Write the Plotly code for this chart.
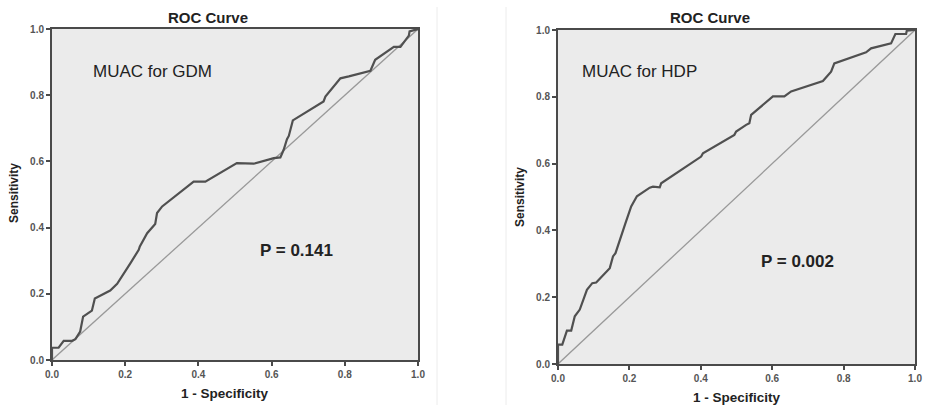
import plotly.graph_objects as go

# Left panel: MUAC for GDM
gdm_fpr = [0, 0, 0.018, 0.032, 0.055, 0.064, 0.077, 0.085, 0.109, 0.117, 0.159, 0.178, 0.214, 0.237, 0.240,
           0.260, 0.282, 0.287, 0.301, 0.387, 0.419, 0.505, 0.551, 0.606, 0.624, 0.633, 0.642, 0.647, 0.658,
           0.742, 0.747, 0.779, 0.788, 0.811, 0.870, 0.883, 0.934, 0.952, 0.975, 0.977, 1.0]
gdm_tpr = [0, 0.037, 0.037, 0.058, 0.058, 0.063, 0.086, 0.131, 0.149, 0.186, 0.210, 0.230, 0.292, 0.333, 0.343,
           0.383, 0.411, 0.444, 0.464, 0.539, 0.539, 0.595, 0.593, 0.610, 0.612, 0.635, 0.667, 0.677, 0.724,
           0.781, 0.796, 0.837, 0.851, 0.857, 0.874, 0.907, 0.946, 0.946, 0.980, 0.993, 1.0]

# Right panel: MUAC for HDP
hdp_fpr = [0, 0, 0.012, 0.025, 0.037, 0.047, 0.061, 0.068, 0.075, 0.081, 0.096, 0.107, 0.145, 0.154, 0.161,
           0.177, 0.189, 0.205, 0.215, 0.221, 0.257, 0.266, 0.285, 0.289, 0.401, 0.406, 0.494, 0.499, 0.527,
           0.536, 0.541, 0.564, 0.602, 0.634, 0.653, 0.742, 0.765, 0.774, 0.863, 0.877, 0.933, 0.945, 0.975,
           0.977, 1.0]
hdp_tpr = [0, 0.058, 0.058, 0.100, 0.100, 0.143, 0.163, 0.182, 0.207, 0.222, 0.242, 0.244, 0.287, 0.322, 0.332,
           0.387, 0.422, 0.472, 0.492, 0.502, 0.528, 0.531, 0.529, 0.541, 0.621, 0.631, 0.686, 0.696, 0.716,
           0.721, 0.746, 0.766, 0.801, 0.801, 0.816, 0.847, 0.875, 0.900, 0.933, 0.945, 0.960, 0.988, 0.988,
           0.998, 1.0]

ref_line = [0, 1]
tick_vals = [0, 0.2, 0.4, 0.6, 0.8, 1.0]
tick_text = ["<b>0.0</b>", "<b>0.2</b>", "<b>0.4</b>", "<b>0.6</b>", "<b>0.8</b>", "<b>1.0</b>"]
panel_titles = ["ROC Curve", "ROC Curve"]
labels = ["MUAC for GDM", "MUAC for HDP"]
pvalues = ["P = 0.141", "P = 0.002"]

W, H = 926, 405
FONT = "Liberation Sans, Arial, sans-serif"
CURVE = "#505050"
DIAG = "#999999"
FRAME = "#4a4a4a"
BG = "#ebebeb"

fig = go.Figure()

fig.add_trace(go.Scatter(x=ref_line, y=ref_line, mode="lines", line=dict(color=DIAG, width=1.3),
                         xaxis="x", yaxis="y", showlegend=False, hoverinfo="skip"))
fig.add_trace(go.Scatter(x=gdm_fpr, y=gdm_tpr, mode="lines", line=dict(color=CURVE, width=2.2),
                         xaxis="x", yaxis="y", showlegend=False))
fig.add_trace(go.Scatter(x=ref_line, y=ref_line, mode="lines", line=dict(color=DIAG, width=1.3),
                         xaxis="x2", yaxis="y2", showlegend=False, hoverinfo="skip"))
fig.add_trace(go.Scatter(x=hdp_fpr, y=hdp_tpr, mode="lines", line=dict(color=CURVE, width=2.2),
                         xaxis="x2", yaxis="y2", showlegend=False))

def px_x(p):
    return p / W

def px_y(p):
    return 1 - p / H

axis_common = dict(range=[0, 1], tickvals=tick_vals, ticktext=tick_text, showgrid=False, zeroline=False,
                   showline=True, mirror=True, linecolor=FRAME, linewidth=2, ticks="outside", ticklen=4,
                   tickcolor=FRAME, tickwidth=1.5, tickfont=dict(family=FONT, size=10, color="#555555"),
                   fixedrange=True, automargin=False)

fig.update_layout(
    width=W, height=H,
    margin=dict(l=0, r=0, t=0, b=0),
    paper_bgcolor="white",
    plot_bgcolor=BG,
    xaxis=dict(domain=[px_x(52), px_x(418)], anchor="y", **axis_common),
    yaxis=dict(domain=[px_y(360), px_y(29)], anchor="x", **axis_common),
    xaxis2=dict(domain=[px_x(558), px_x(915)], anchor="y2", **axis_common),
    yaxis2=dict(domain=[px_y(364), px_y(30)], anchor="x2", **axis_common),
)

ann = []
for cx, cy, t in [(208, 18, panel_titles[0]), (710, 18, panel_titles[1])]:
    ann.append(dict(x=px_x(cx), y=px_y(cy), xref="paper", yref="paper", text=f"<b>{t}</b>", showarrow=False,
                    font=dict(family=FONT, size=15, color="#222222"), xanchor="center", yanchor="middle"))
for cx, cy in [(225, 393), (737, 397)]:
    ann.append(dict(x=px_x(cx), y=px_y(cy), xref="paper", yref="paper", text="<b>1 - Specificity</b>",
                    showarrow=False, font=dict(family=FONT, size=13.5, color="#222222"),
                    xanchor="center", yanchor="middle"))
for cx, cy in [(14, 193), (520, 197)]:
    ann.append(dict(x=px_x(cx), y=px_y(cy), xref="paper", yref="paper", text="<b>Sensitivity</b>",
                    showarrow=False, textangle=-90, font=dict(family=FONT, size=12, color="#222222"),
                    xanchor="center", yanchor="middle"))
ann.append(dict(x=0.107, y=0.872, xref="x", yref="y", text=labels[0], showarrow=False,
                font=dict(family=FONT, size=17, color="#222222"), xanchor="left", yanchor="middle"))
ann.append(dict(x=0.563, y=0.331, xref="x", yref="y", text=f"<b>{pvalues[0]}</b>", showarrow=False,
                font=dict(family=FONT, size=17, color="#222222"), xanchor="left", yanchor="middle"))
ann.append(dict(x=0.061, y=0.875, xref="x2", yref="y2", text=labels[1], showarrow=False,
                font=dict(family=FONT, size=17, color="#222222"), xanchor="left", yanchor="middle"))
ann.append(dict(x=0.564, y=0.307, xref="x2", yref="y2", text=f"<b>{pvalues[1]}</b>", showarrow=False,
                font=dict(family=FONT, size=17, color="#222222"), xanchor="left", yanchor="middle"))
fig.update_layout(annotations=ann)

fig.update_layout(shapes=[
    dict(type="line", xref="paper", yref="paper", x0=px_x(437), x1=px_x(437), y0=0, y1=px_y(7),
         line=dict(color="#ececec", width=1)),
    dict(type="line", xref="paper", yref="paper", x0=px_x(506), x1=px_x(506), y0=0, y1=px_y(7),
         line=dict(color="#ececec", width=1)),
])

fig.write_html("out.html", config={"displayModeBar": False},
               post_script="document.body.style.margin='0';document.body.style.overflow='hidden';")
